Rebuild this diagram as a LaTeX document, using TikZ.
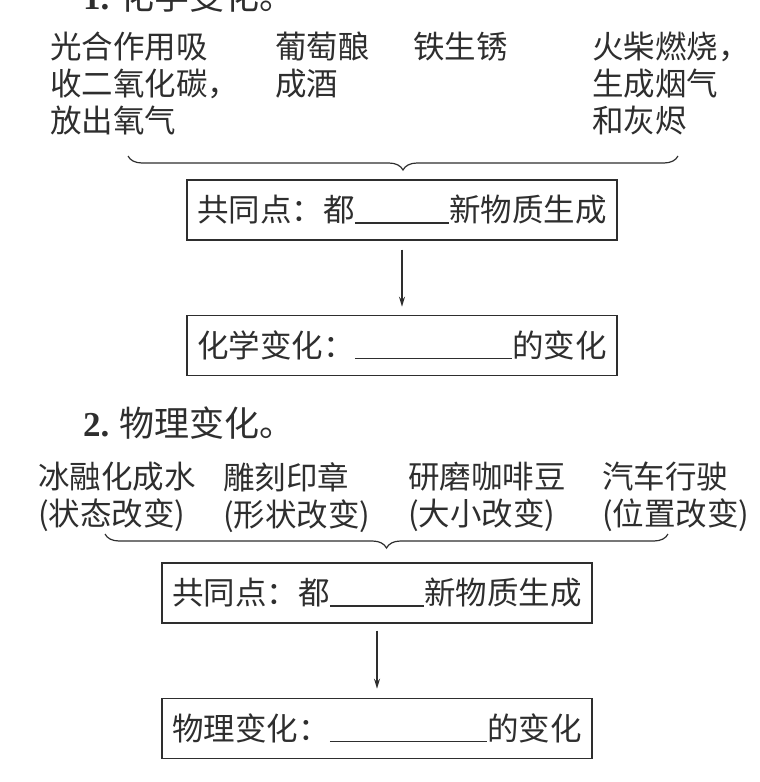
\documentclass[tikz,border=0pt]{standalone}
\usepackage{fontspec}
\setmainfont{Noto Sans CJK SC}
\newfontfamily\numfont{Liberation Serif}
\usepackage{tikz}
\usetikzlibrary{positioning, arrows.meta, decorations.pathreplacing}
\colorlet{inkgray}{black!82}
\newcommand{\blank}[1]{\rule[-0.06em]{#1}{0.05em}}

\begin{document}
\begin{tikzpicture}[x=1pt, y=-1pt, >={Stealth[length=10pt, width=6pt]},
      font=\fontsize{31.5}{37}\selectfont, node distance=74pt,
      item/.style={align=left, anchor=north west, inner sep=0pt, text=inkgray},
      heading/.style={anchor=base west, inner sep=0pt, text=inkgray, font=\fontsize{35}{40}\selectfont},
      sumbox/.style={draw=inkgray, line width=1.4pt, minimum width=430pt, minimum height=60pt,
        inner xsep=9pt, text=inkgray},
      curly/.style={decorate, decoration={brace, mirror, amplitude=14pt}, draw=inkgray, line width=1.2pt}]
    \useasboundingbox (0,0) rectangle (760,782);
    % 1. chemical change
    \node[heading] (title1) at (83,9) {{\numfont\bfseries 1.} 化学变化。};
    \node[item] (photo) at (50,32)  {光合作用吸\\收二氧化碳，\\放出氧气};
    \node[item] (wine)  at (275,32) {葡萄酿\\成酒};
    \node[item] (rust)  at (413,32) {铁生锈};
    \node[item] (match) at (592,32) {火柴燃烧，\\生成烟气\\和灰烬};
    \coordinate (brace1l) at (128,156);
    \coordinate (brace1r) at (678,156);
    \draw[curly] (brace1l) -- (brace1r);
    \node[sumbox] (common1) at (402,210) {共同点：都\blank{3em}新物质生成};
    \node[sumbox, below=of common1] (chem) {化学变化：\blank{5em}的变化};
    \draw[->, inkgray, line width=1.2pt, shorten <=9pt, shorten >=8pt] (common1) -- (chem);
    % 2. physical change
    \node[heading] (title2) at (83,436) {{\numfont\bfseries 2.} 物理变化。};
    \node[item] (ice)    at (38,462)  {冰融化成水\\(状态改变)};
    \node[item] (seal)   at (223,462) {雕刻印章\\(形状改变)};
    \node[item] (coffee) at (408,462) {研磨咖啡豆\\(大小改变)};
    \node[item] (car)    at (602,462) {汽车行驶\\(位置改变)};
    \coordinate (brace2l) at (105,534);
    \coordinate (brace2r) at (668,534);
    \draw[curly] (brace2l) -- (brace2r);
    \node[sumbox] (common2) at (377,593) {共同点：都\blank{3em}新物质生成};
    \node[sumbox, below=of common2] (phys) {物理变化：\blank{5em}的变化};
    \draw[->, inkgray, line width=1.2pt, shorten <=7pt, shorten >=9pt] (common2) -- (phys);
  \end{tikzpicture}
\end{document}
